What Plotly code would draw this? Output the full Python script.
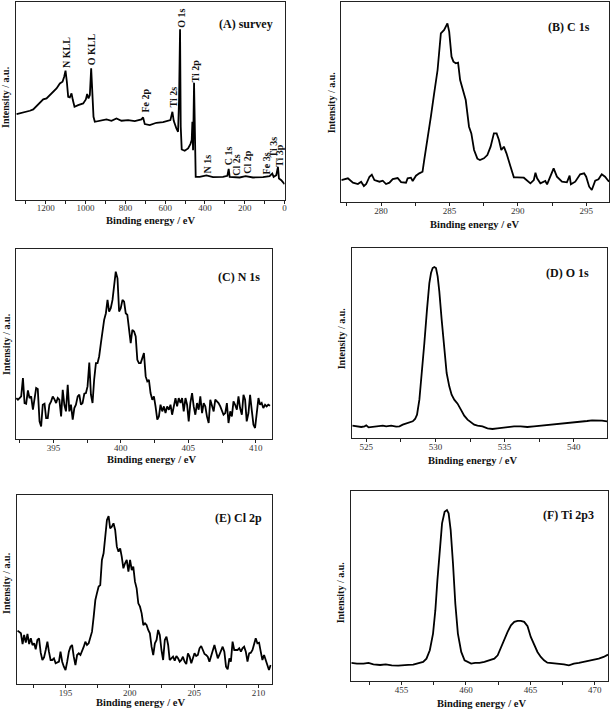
import plotly.graph_objects as go

W, H = 614, 710
SERIF = "Liberation Serif, Times New Roman, serif"

# ---------------- (A) survey ----------------
survey_be = [1346.7, 1330.0, 1313.2, 1296.5, 1279.8, 1263.0, 1246.3, 1229.6, 1212.9, 1196.1,
             1179.4, 1162.7, 1145.9, 1129.2, 1115.8, 1107.5, 1100.8, 1094.1, 1087.4, 1079.1,
             1070.7, 1064.0, 1055.6, 1037.2, 1012.1, 998.7, 992.0, 985.3, 978.6, 971.9,
             966.9, 960.2, 953.6, 928.5, 895.0, 869.9, 844.8, 819.7, 786.3, 752.8,
             719.3, 711.0, 702.6, 677.5, 644.1, 610.6, 585.5, 573.8, 563.8, 557.1,
             543.7, 535.3, 530.3, 525.3, 521.9, 516.9, 501.9, 485.1, 473.4, 466.7,
             463.4, 460.0, 455.0, 450.0, 446.7, 426.6, 393.1, 359.7, 309.5, 287.7,
             281.0, 276.0, 225.8, 195.7, 158.9, 108.7, 75.3, 61.9, 55.2, 41.8,
             33.5, 28.4, 16.7, 0.0]
survey_int = [256, 258, 260, 263, 266, 270, 280, 293, 300, 303,
              313, 323, 333, 348, 353, 368, 386, 353, 308, 306,
              318, 298, 278, 283, 288, 300, 316, 303, 313, 393,
              338, 248, 233, 236, 240, 236, 243, 236, 238, 235,
              240, 246, 226, 223, 230, 232, 236, 238, 263, 236,
              213, 203, 298, 510, 218, 150, 146, 153, 166, 178,
              233, 148, 350, 98, 68, 68, 72, 67, 68, 71,
              92, 68, 66, 70, 66, 67, 70, 78, 68, 73,
              98, 63, 58, 46]
survey_labels = ["N KLL", "O KLL", "Fe 2p", "Ti 2s", "O 1s", "Ti 2p", "N 1s",
                 "C 1s", "Cl 2s", "Cl 2p", "Fe 3s", "Ti 3s", "Ti 3p"]
survey_label_be = [1095.7, 968.6, 699.3, 560.4, 518.6, 446.7, 389.8,
                   282.7, 245.9, 184.0, 88.7, 55.2, 28.4]
survey_label_int = [441, 450, 298, 306, 543, 386, 105, 131, 103, 113, 108, 158, 133]

# ---------------- (B) C 1s ----------------
c1s_be = [277.09, 277.57, 277.94, 278.30, 278.54, 278.74, 278.91, 279.15, 279.32, 279.51,
          279.88, 280.12, 280.36, 280.61, 280.85, 281.21, 281.46, 281.82, 281.94, 282.18,
          282.31, 282.55, 282.79, 283.03, 283.16, 283.40, 283.64, 283.88, 284.13, 284.37,
          284.61, 284.85, 284.98, 285.15, 285.29, 285.46, 285.63, 285.78, 285.95, 286.19,
          286.43, 286.60, 286.80, 287.04, 287.23, 287.52, 287.77, 288.01, 288.25, 288.45,
          288.62, 288.79, 288.98, 289.17, 289.47, 289.71, 289.95, 290.44, 290.92, 291.17,
          291.29, 291.41, 291.65, 292.01, 292.14, 292.38, 292.62, 292.86, 293.23, 293.59,
          293.79, 293.88, 294.20, 294.56, 294.85, 295.00, 295.22, 295.41, 295.66, 295.90,
          296.14, 296.38, 296.67]
c1s_int = [65, 70, 57, 53, 60, 47, 53, 75, 81, 65,
           60, 63, 53, 57, 68, 71, 59, 57, 70, 72,
           62, 78, 85, 90, 127, 185, 255, 325, 395, 505,
           515, 535, 510, 435, 420, 415, 417, 365, 343, 305,
           225, 205, 155, 129, 125, 130, 140, 165, 205, 205,
           185, 155, 165, 145, 105, 73, 73, 72, 55, 65,
           87, 70, 55, 62, 52, 77, 100, 75, 60, 58,
           78, 52, 60, 82, 85, 75, 45, 35, 63, 67,
           82, 75, 60]

# ---------------- (C) N 1s ----------------
n1s_be = [392.25, 392.37, 392.49, 392.61, 392.74, 392.86, 392.98, 393.11, 393.23, 393.35,
          393.48, 393.60, 393.72, 393.84, 393.97, 394.09, 394.21, 394.34, 394.46, 394.58,
          394.70, 394.83, 394.95, 395.07, 395.20, 395.32, 395.44, 395.57, 395.69, 395.81,
          395.93, 396.06, 396.18, 396.30, 396.43, 396.55, 396.67, 396.80, 396.92, 397.04,
          397.16, 397.29, 397.41, 397.53, 397.66, 397.78, 397.90, 398.02, 398.15, 398.27,
          398.39, 398.52, 398.64, 398.76, 398.89, 399.01, 399.13, 399.25, 399.38, 399.50,
          399.62, 399.75, 399.87, 399.99, 400.12, 400.24, 400.36, 400.48, 400.61, 400.73,
          400.85, 400.98, 401.10, 401.22, 401.34, 401.47, 401.59, 401.71, 401.84, 401.96,
          402.08, 402.20, 402.33, 402.45, 402.57, 402.70, 402.82, 402.94, 403.07, 403.19,
          403.31, 403.43, 403.56, 403.68, 403.80, 403.93, 404.05, 404.17, 404.29, 404.42,
          404.54, 404.66, 404.79, 404.91, 405.03, 405.15, 405.28, 405.40, 405.52, 405.65,
          405.77, 405.89, 406.02, 406.14, 406.26, 406.38, 406.51, 406.63, 406.75, 406.88,
          407.00, 407.12, 407.24, 407.37, 407.49, 407.61, 407.74, 407.86, 407.98, 408.11,
          408.23, 408.35, 408.47, 408.60, 408.72, 408.84, 408.97, 409.09, 409.21, 409.33,
          409.46, 409.58, 409.70, 409.83, 409.95, 410.07, 410.20, 410.32, 410.44, 410.56,
          410.69, 410.81, 410.93, 411.06]
n1s_int = [123, 118, 123, 128, 183, 108, 106, 146, 123, 128,
           88, 123, 153, 150, 53, 38, 103, 106, 63, 63,
           103, 113, 128,
           120, 108, 123, 118, 68, 148, 103, 83, 163, 83,
           103, 58, 93, 103, 128, 133, 103, 108, 136, 138,
           158, 230, 133, 108, 178, 228, 228, 248, 288, 328,
           358, 378, 418, 383, 393, 418, 453,
           503, 483, 383, 393, 418, 413, 378, 373, 328, 288,
           328, 323, 308, 238, 228, 228, 243, 258, 188, 173,
           178, 138, 118, 128, 98, 58, 68, 103, 83, 98,
           78, 98, 88, 103, 73, 98, 123, 98, 123, 108,
           123, 83, 123, 103, 53, 108, 138, 98, 73, 108,
           88, 128, 78, 108, 98, 68, 48, 118, 103, 83,
           118, 113, 108, 98, 83, 73, 78, 108, 48, 83,
           68, 113, 103, 88, 128, 93, 73, 133, 118, 53,
           78, 133, 88, 43, 33, 88, 123, 103, 108, 93,
           103, 98, 103, 100]

# ---------------- (D) O 1s ----------------
o1s_be = [523.99, 524.28, 524.64, 524.88, 525.00, 525.17, 525.48, 525.84, 526.20, 526.44,
          526.80, 527.16, 527.40, 527.64, 528.00, 528.36, 528.53, 528.67, 528.84, 529.01,
          529.20, 529.39, 529.56, 529.68, 529.80, 529.92, 530.04, 530.16, 530.28, 530.45,
          530.64, 530.81, 531.00, 531.17, 531.36, 531.60, 531.84, 532.08, 532.32, 532.56,
          532.80, 533.04, 533.40, 533.76, 534.12, 534.48, 534.84, 535.20, 535.68, 536.16,
          536.64, 537.12, 537.60, 538.08, 538.56, 539.04, 539.52, 540.00, 540.48, 540.96,
          541.32, 541.68, 542.04, 542.40]
o1s_int = [37, 35, 33, 35, 38, 32, 33, 35, 37, 35,
           37, 34, 35, 40, 45, 50, 57, 70, 115, 185,
           285, 385, 465, 495, 510, 513, 510, 485, 440, 355,
           265, 195, 155, 130, 115, 103, 85, 67, 55, 47,
           40, 37, 35, 29, 27, 29, 31, 34, 35, 35,
           33, 35, 37, 39, 41, 42, 43, 45, 48, 51,
           53, 53, 52, 50]

# ---------------- (E) Cl 2p ----------------
cl2p_be = [191.27, 191.40, 191.53, 191.66, 191.78, 191.91, 192.04, 192.17, 192.30, 192.43,
           192.56, 192.68, 192.81, 192.94, 193.07, 193.20, 193.33, 193.46, 193.59, 193.71,
           193.84, 193.97, 194.10, 194.23, 194.36, 194.49, 194.61, 194.74, 194.87, 195.00,
           195.13, 195.26, 195.39, 195.51, 195.64, 195.77, 195.90, 196.03, 196.16, 196.29,
           196.42, 196.54, 196.67, 196.80, 196.93, 197.06, 197.19, 197.32, 197.44, 197.57,
           197.70, 197.83, 197.96, 198.09, 198.22, 198.35, 198.47, 198.60, 198.73, 198.86,
           198.99, 199.12, 199.25, 199.37, 199.50, 199.63, 199.76, 199.89, 200.02, 200.15,
           200.27, 200.40, 200.53, 200.66, 200.79, 200.92, 201.05, 201.18, 201.30, 201.43,
           201.56, 201.69, 201.82, 201.95, 202.08, 202.20, 202.33, 202.46, 202.59, 202.72,
           202.85, 202.98, 203.10, 203.23, 203.36, 203.49, 203.62, 203.75, 203.88, 204.01,
           204.13, 204.26, 204.39, 204.52, 204.65, 204.78, 204.91, 205.03, 205.16, 205.29,
           205.42, 205.55, 205.68, 205.81, 205.93, 206.06, 206.19, 206.32, 206.45, 206.58,
           206.71, 206.84, 206.96, 207.09, 207.22, 207.35, 207.48, 207.61, 207.74, 207.86,
           207.99, 208.12, 208.25, 208.38, 208.51, 208.64, 208.76, 208.89, 209.02, 209.15,
           209.28, 209.41, 209.54, 209.67, 209.79, 209.92, 210.05, 210.18, 210.31, 210.44,
           210.57, 210.70, 210.82, 210.95]
cl2p_int = [160, 157, 152, 120, 147, 124, 150, 120, 137, 117,
            122, 104, 132, 137, 94, 72, 80, 102, 127, 97,
            72, 72, 77, 62, 64, 67, 97, 67, 52, 42,
            67, 97, 112, 117, 82, 57, 87, 92, 87, 97,
            112, 127, 117, 122, 137, 157, 202, 252, 272, 292,
            297, 372, 392, 442, 492, 504, 467, 472, 482, 462,
            412, 397, 407, 382, 347, 362, 372, 337, 372, 342,
            352, 307, 287, 242, 232, 212, 177, 182, 177, 162,
            152, 112, 87, 122, 132, 162, 147, 102, 72, 132,
            142, 117, 72, 77, 82, 70, 84, 77, 67, 72,
            82, 67, 60, 92, 82, 62, 82, 92, 84, 87,
            107, 114, 102, 90, 87, 82, 67, 82, 102, 117,
            97, 77, 87, 102, 112, 97, 52, 44, 77, 67,
            127, 102, 102, 102, 107, 97, 107, 112, 97, 67,
            92, 94, 102, 117, 137, 122, 124, 97, 72, 87,
            70, 52, 42, 57]

# ---------------- (F) Ti 2p3 ----------------
ti2p_be = [451.09, 451.53, 452.04, 452.43, 452.81, 453.33, 453.77, 454.23, 454.74, 455.13,
           455.51, 455.90, 456.29, 456.67, 456.93, 457.19, 457.44, 457.62, 457.78, 457.96,
           458.14, 458.34, 458.52, 458.65, 458.81, 458.99, 459.17, 459.37, 459.63, 459.89,
           460.15, 460.40, 460.71, 461.05, 461.43, 461.82, 462.20, 462.46, 462.72, 462.98,
           463.23, 463.49, 463.75, 464.01, 464.26, 464.52, 464.78, 465.03, 465.29, 465.55,
           465.81, 466.06, 466.32, 466.58, 466.96, 467.35, 467.61, 467.99, 468.38, 468.77,
           469.15, 469.54, 469.92, 470.31, 470.69, 471.03]
ti2p_int = [54, 52, 52, 54, 50, 48, 50, 47, 46, 48,
            48, 49, 52, 57, 67, 92, 142, 212, 302, 392,
            472, 507, 512, 502, 452, 352, 232, 142, 87, 62,
            57, 52, 54, 54, 57, 62, 67, 77, 102, 122,
            147, 167, 177, 180, 180, 177, 164, 132, 107, 87,
            72, 62, 55, 54, 54, 52, 50, 47, 52, 54,
            57, 60, 62, 67, 72, 79]

panel_titles = ["(A) survey", "(B) C 1s", "(C) N 1s", "(D) O 1s", "(E) Cl 2p", "(F) Ti 2p3"]
x_title = "Binding energy / eV"
y_title = "Intensity / a.u."

# layout geometry (pixels)
panels = [
    dict(x=survey_be, y=survey_int, xr=[1350, 0], yr=[0, 592], box=(16, 286, 2, 199.5),
         dt=200, mdt=100, lab=(247, 24), xt=(151, 220), yt=(5, 97)),
    dict(x=c1s_be, y=c1s_int, xr=[277.09, 296.67], yr=[0, 599], box=(343, 612, 2, 201.7),
         dt=5, mdt=2.5, lab=(572, 27), xt=(477, 224), yt=(333, 102)),
    dict(x=n1s_be, y=n1s_int, xr=[392.22, 411.18], yr=[0, 571], box=(16, 273, 249, 439),
         dt=5, mdt=2.5, lab=(240, 277), xt=(152, 459), yt=(6, 344)),
    dict(x=o1s_be, y=o1s_int, xr=[523.99, 542.4], yr=[0, 570], box=(354, 610, 248, 438),
         dt=5, mdt=2.5, lab=(570, 273), xt=(475, 460), yt=(343, 338)),
    dict(x=cl2p_be, y=cl2p_int, xr=[191.22, 211.03], yr=[0, 567], box=(17, 273, 495, 684),
         dt=5, mdt=2.5, lab=(240, 518), xt=(141, 702), yt=(6, 583)),
    dict(x=ti2p_be, y=ti2p_int, xr=[451.09, 471.03], yr=[0, 569], box=(353, 611, 491, 681),
         dt=5, mdt=2.5, lab=(571, 515), xt=(484, 703), yt=(342, 592)),
]

fig = go.Figure()
annotations = []
AX = "#222222"
for i, p in enumerate(panels, start=1):
    xa = "x" if i == 1 else f"x{i}"
    ya = "y" if i == 1 else f"y{i}"
    fig.add_trace(go.Scatter(x=p["x"], y=p["y"], mode="lines",
                             line=dict(color="black", width=1.8),
                             xaxis=xa, yaxis=ya, showlegend=False, hoverinfo="skip"))
    x0, x1, y0, y1 = p["box"]
    fig.layout["xaxis" if i == 1 else f"xaxis{i}"] = dict(
        domain=[x0 / W, x1 / W], range=p["xr"], anchor=ya,
        showline=True, mirror=True, linecolor=AX, linewidth=1,
        ticks="outside", ticklen=3, tickwidth=1, tickcolor=AX,
        tick0=0, dtick=p["dt"], ticklabelstandoff=-3,
        minor=dict(dtick=p["mdt"], tick0=0, ticks="outside", ticklen=3, tickcolor=AX, showgrid=False),
        showgrid=False, zeroline=False,
        tickfont=dict(family=SERIF, size=9, color="#333333"))
    fig.layout["yaxis" if i == 1 else f"yaxis{i}"] = dict(
        domain=[1 - y1 / H, 1 - y0 / H], range=p["yr"], anchor=xa,
        showline=True, mirror=True, linecolor=AX, linewidth=1,
        ticks="", showticklabels=False, showgrid=False, zeroline=False)
    annotations.append(dict(text=f"<b>{panel_titles[i-1]}</b>", xref="paper", yref="paper",
                            x=p["lab"][0] / W, y=1 - p["lab"][1] / H, showarrow=False,
                            xanchor="center", yanchor="middle",
                            font=dict(family=SERIF, size=12, color="#111")))
    annotations.append(dict(text=f"<b>{x_title}</b>", xref="paper", yref="paper",
                            x=p["xt"][0] / W, y=1 - p["xt"][1] / H, showarrow=False,
                            xanchor="center", yanchor="middle",
                            font=dict(family=SERIF, size=10.5, color="#111")))
    annotations.append(dict(text=f"<b>{y_title}</b>", xref="paper", yref="paper",
                            x=p["yt"][0] / W, y=1 - p["yt"][1] / H, showarrow=False,
                            xanchor="center", yanchor="middle", textangle=-90,
                            font=dict(family=SERIF, size=10, color="#111")))

for lab, bx, by in zip(survey_labels, survey_label_be, survey_label_int):
    annotations.append(dict(text=f"<b>{lab}</b>", xref="x", yref="y", x=bx, y=by,
                            showarrow=False, textangle=-90, xanchor="center", yanchor="middle",
                            font=dict(family=SERIF, size=10, color="#111")))

fig.update_layout(width=W, height=H, margin=dict(l=0, r=0, t=0, b=0),
                  paper_bgcolor="white", plot_bgcolor="white",
                  annotations=annotations)

fig.write_html("out.html", config={"displayModeBar": False},
               post_script="document.body.style.margin='0px';document.body.style.padding='0px';")
